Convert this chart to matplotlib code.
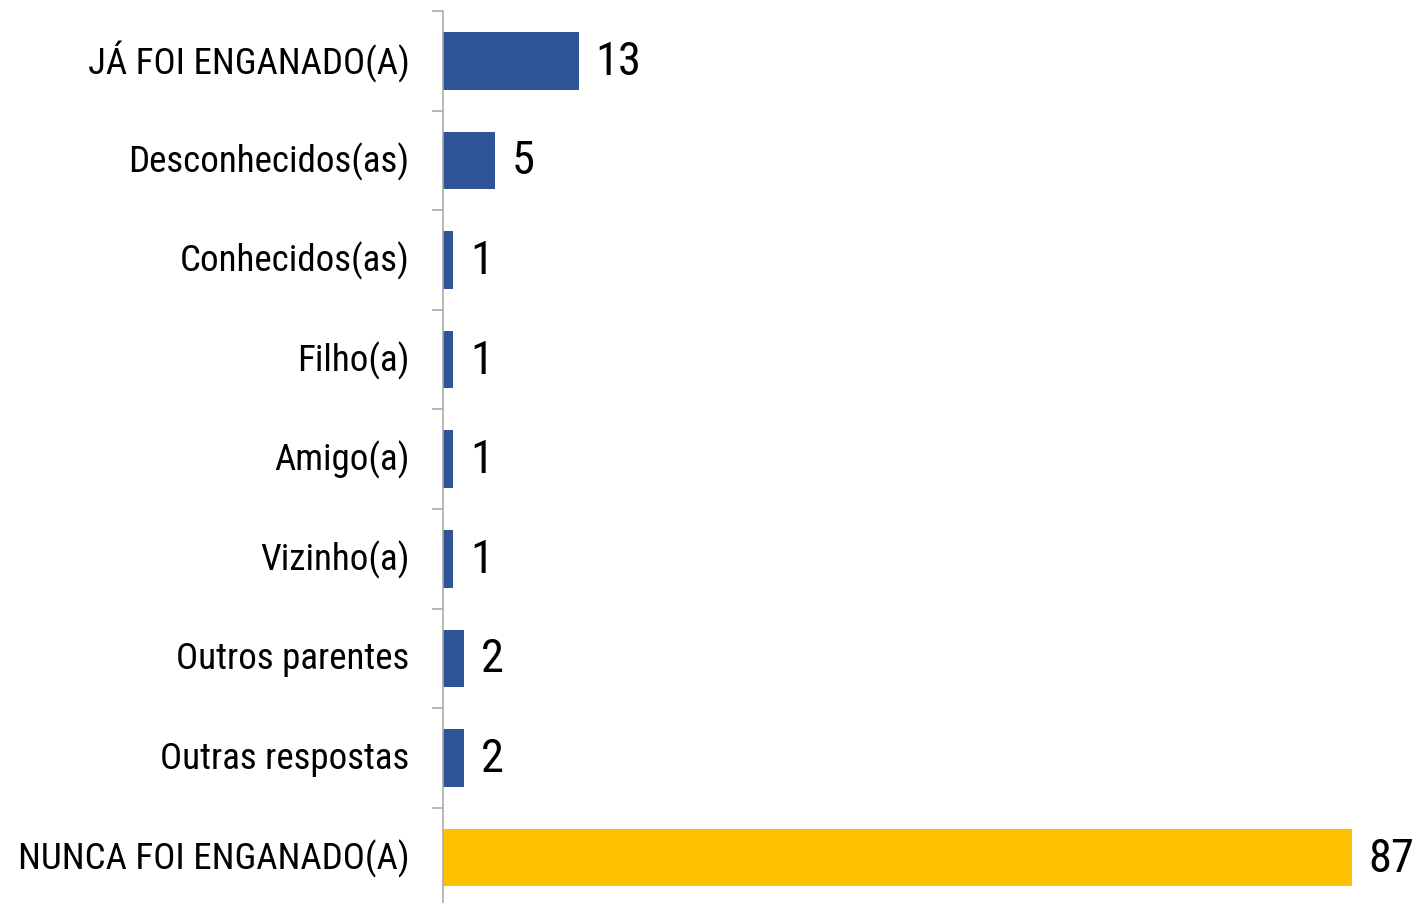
import matplotlib
matplotlib.use("Agg")
import matplotlib.pyplot as plt
from matplotlib import font_manager
import numpy as np

# ===== data =====
categories = ["JÁ FOI ENGANADO(A)", "Desconhecidos(as)", "Conhecidos(as)", "Filho(a)",
              "Amigo(a)", "Vizinho(a)", "Outros parentes", "Outras respostas",
              "NUNCA FOI ENGANADO(A)"]
values = [13, 5, 1, 1, 1, 1, 2, 2, 87]
bar_colors = ["#2F5597"] * 8 + ["#FFC000"]

# pick an upright narrow font if one is installed (reference uses Arial Narrow)
def pick_font():
    fl = [f for f in font_manager.fontManager.ttflist
          if f.style == "normal" and f.weight in (400, "normal", "regular")]
    for want in ["Liberation Sans Narrow", "Arial Narrow", "Roboto Condensed"]:
        for f in fl:
            if f.name == want:
                return font_manager.FontProperties(fname=f.fname)
    for f in fl:
        if f.name in ("DejaVu Sans", "Roboto", "Open Sans", "Noto Sans") and \
                str(f.stretch) in ("condensed", "semi-condensed", "75", "87"):
            return font_manager.FontProperties(fname=f.fname)
    return font_manager.FontProperties(family="Liberation Sans")

fp = pick_font()

W, H = 1417, 904
fig = plt.figure(figsize=(W / 100, H / 100), dpi=100)
x0, x1 = 443, 1352
y_top, step = 12, 99.6
y_bot = y_top + step * len(categories)
ax = fig.add_axes([x0 / W, 1 - y_bot / H, (x1 - x0) / W, (y_bot - y_top) / H])

y = np.arange(len(categories))
ax.barh(y, values, height=0.58, color=bar_colors, zorder=2)
ax.set_xlim(0, max(values))
ax.set_ylim(len(categories) - 0.5, -0.5)

# size the labels so the longest one spans about 392 px like the reference
renderer = fig.canvas.get_renderer()
probe = fig.text(0, 0, categories[-1], fontproperties=fp, fontsize=25)
wpx = probe.get_window_extent(renderer).width
probe.remove()
lab_size = min(27, 25 * 392 / wpx)
probe = fig.text(0, 0, "87", fontproperties=fp, fontsize=36)
wnum = probe.get_window_extent(renderer).width
probe.remove()
num_size = min(36, 36 * 46 / wnum)

for yi, v in zip(y, values):
    ax.text(v + 1.6, yi, str(v), va='center', ha='left', fontproperties=fp,
            fontsize=num_size, clip_on=False)

ax.set_yticks(y)
ax.set_yticklabels(categories, fontproperties=fp, fontsize=lab_size, va='center')
ax.tick_params(axis='y', which='major', length=0, pad=24)
ax.set_yticks(np.arange(len(categories) + 1) - 0.5, minor=True)
ax.tick_params(axis='y', which='minor', length=8, width=1.1, color='#A6A6A6')
ax.set_xticks([])

for s in ['top', 'right', 'bottom']:
    ax.spines[s].set_visible(False)
ax.spines['left'].set_color('#A6A6A6')
ax.spines['left'].set_linewidth(1.1)

fig.savefig("out.png", dpi=100)
